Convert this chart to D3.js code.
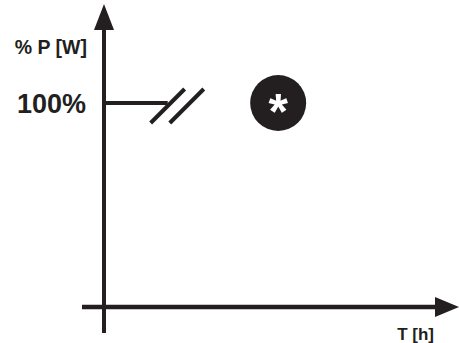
<!DOCTYPE html>
<html>
<head>
<meta charset="utf-8">
<script src="https://cdn.jsdelivr.net/npm/d3@7"></script>
<style>
  html, body { margin: 0; padding: 0; background: #fff; }
  svg { display: block; }
  text { font-family: "Liberation Sans", Arial, sans-serif; font-weight: bold; fill: #231f20; }
</style>
</head>
<body>
<svg id="chart" width="459" height="343"></svg>
<script>
// ---- data ----
const xAxisLabel = "T [h]";
const yAxisLabel = "% P [W]";
const yTickValues = [100];
const yTickLabels = ["100%"];
const powerTimes = [0, 1.8];        // time [h] (schematic)
const powerValues = [100, 100];     // % of rated power
const breakTime = 2.35;             // axis-break marker position
const markerTime = 4.92;            // circled asterisk position
const markerValue = 100;
const markerSymbol = "*";

const ink = "#231f20";
const svg = d3.select("#chart");

const x = d3.scaleLinear().domain([0, 10]).range([104, 458]);
const y = d3.scaleLinear().domain([0, 100]).range([307, 103]);

// axes lines
svg.append("line").attr("x1", x(0)).attr("x2", x(0)).attr("y1", 333).attr("y2", 22)
  .attr("stroke", ink).attr("stroke-width", 4);
svg.append("path").attr("d", `M${x(0)},4 L${x(0)-10},30 L${x(0)+10},30 Z`).attr("fill", ink);

svg.append("line").attr("x1", 82).attr("x2", 440).attr("y1", y(0)).attr("y2", y(0))
  .attr("stroke", ink).attr("stroke-width", 4.5);
svg.append("path").attr("d", `M459,${y(0)} L435,${y(0)-10} L435,${y(0)+10} Z`).attr("fill", ink);

// power line
const pts = powerTimes.map((t, i) => [t, powerValues[i]]);
svg.append("path").datum(pts)
  .attr("d", d3.line().x(d => x(d[0])).y(d => y(d[1])))
  .attr("fill", "none").attr("stroke", ink).attr("stroke-width", 4);

// break marks (two slashes)
[ -0.27, 0.27 ].forEach(off => {
  const cx = x(breakTime + off) - 10, cy = y(100) + 3;
  svg.append("line")
    .attr("x1", cx - 17).attr("y1", cy + 17)
    .attr("x2", cx + 17).attr("y2", cy - 17)
    .attr("stroke", ink).attr("stroke-width", 4);
});

// circled asterisk
svg.append("circle").attr("cx", x(markerTime)).attr("cy", y(markerValue)).attr("r", 28).attr("fill", ink);
svg.append("text").attr("x", x(markerTime)).attr("y", y(markerValue) + 26)
  .attr("text-anchor", "middle").style("font-size", "50px").style("fill", "#fff").text(markerSymbol);

// tick labels
yTickValues.forEach((v, i) => {
  svg.append("text").attr("x", 86).attr("y", y(v) + 10).attr("text-anchor", "end")
    .style("font-size", "27px").text(yTickLabels[i]);
});

// axis titles
svg.append("text").attr("x", 87).attr("y", 54).attr("text-anchor", "end")
  .style("font-size", "19.5px").text(yAxisLabel);
svg.append("text").attr("x", 434).attr("y", 340).attr("text-anchor", "end")
  .style("font-size", "17px").text(xAxisLabel);
</script>
</body>
</html>
